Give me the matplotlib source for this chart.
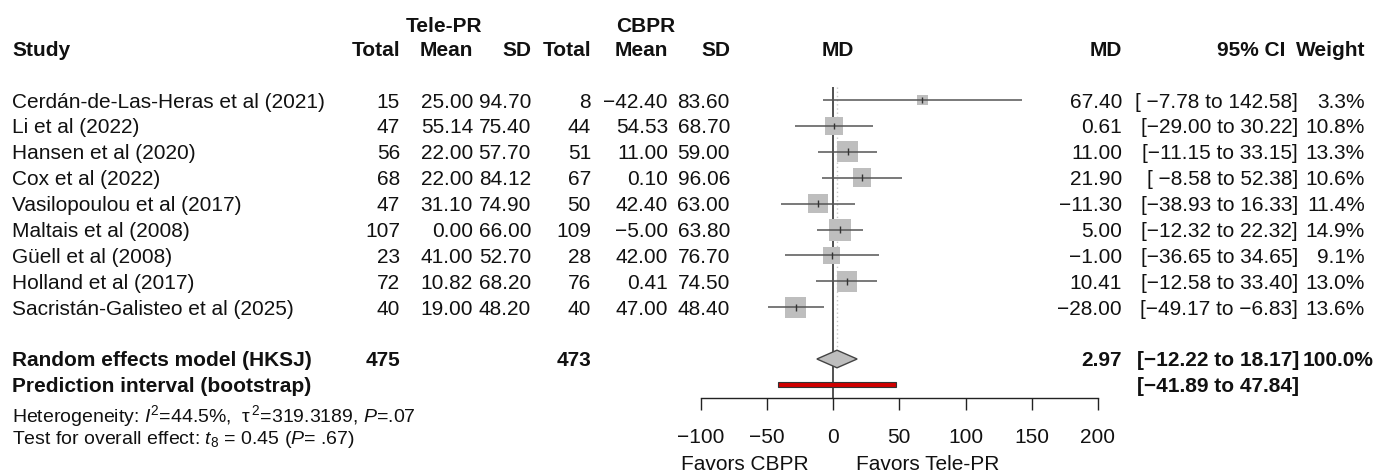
import matplotlib
matplotlib.use("Agg")
import matplotlib.pyplot as plt
import matplotlib.transforms as mtransforms
from matplotlib.patches import Rectangle, Polygon
import numpy as np

plt.rcParams['font.family'] = ['Liberation Sans', 'DejaVu Sans']
plt.rcParams['mathtext.fontset'] = 'custom'
plt.rcParams['mathtext.rm'] = 'Liberation Sans'
plt.rcParams['mathtext.it'] = 'Liberation Sans:italic'
plt.rcParams['mathtext.bf'] = 'Liberation Sans:bold'

# ---------------- data ----------------
studies = ["Cerdán-de-Las-Heras et al (2021)", "Li et al (2022)", "Hansen et al (2020)",
           "Cox et al (2022)", "Vasilopoulou et al (2017)", "Maltais et al (2008)",
           "Güell et al (2008)", "Holland et al (2017)", "Sacristán-Galisteo et al (2025)"]
tele_n = [15, 47, 56, 68, 47, 107, 23, 72, 40]
tele_mean = [25.00, 55.14, 22.00, 22.00, 31.10, 0.00, 41.00, 10.82, 19.00]
tele_sd = [94.70, 75.40, 57.70, 84.12, 74.90, 66.00, 52.70, 68.20, 48.20]
cbpr_n = [8, 44, 51, 67, 50, 109, 28, 76, 40]
cbpr_mean = [-42.40, 54.53, 11.00, 0.10, 42.40, -5.00, 42.00, 0.41, 47.00]
cbpr_sd = [83.60, 68.70, 59.00, 96.06, 63.00, 63.80, 76.70, 74.50, 48.40]
md = [67.40, 0.61, 11.00, 21.90, -11.30, 5.00, -1.00, 10.41, -28.00]
ci_lo = [-7.78, -29.00, -11.15, -8.58, -38.93, -12.32, -36.65, -12.58, -49.17]
ci_hi = [142.58, 30.22, 33.15, 52.38, 16.33, 22.32, 34.65, 33.40, -6.83]
weight = [3.3, 10.8, 13.3, 10.6, 11.4, 14.9, 9.1, 13.0, 13.6]

re_label = "Random effects model (HKSJ)"
pi_label = "Prediction interval (bootstrap)"
re_tele_n, re_cbpr_n = 475, 473
re_md, re_lo, re_hi, re_weight = 2.97, -12.22, 18.17, 100.0
pi_lo, pi_hi = -41.89, 47.84
x_ticks = [-100, -50, 0, 50, 100, 150, 200]
label_left, label_right = "Favors CBPR", "Favors Tele-PR"
het_text = r"Heterogeneity: $I^2$=44.5%,  $\mathregular{\tau^{\,2}}$=319.3189, $P$=.07"
test_text = r"Test for overall effect: $t_8$ = 0.45 ($P$= .67)"

# ---------------- layout ----------------
W, H = 1375, 472
FS = 15
FS_SMALL = 14
TXT = "#111111"

fig = plt.figure(figsize=(W / 100, H / 100), dpi=100)
fig.patch.set_facecolor("white")

ROW0_PX, ROW_PX = 100.0, 25.9
def r_of(ypx):
    return (ypx - ROW0_PX) / ROW_PX

AX_L, AX_R = 700.6, 1098.0
ax = fig.add_axes([AX_L / W, 0, (AX_R - AX_L) / W, 1])
ax.set_xlim(x_ticks[0], x_ticks[-1])
ax.set_ylim(r_of(H), r_of(0))
ax.patch.set_visible(False)

tt = mtransforms.blended_transform_factory(fig.transFigure, ax.transData)

def put(xpx, r, s, ha="right", bold=False, size=FS):
    ax.text(xpx / W, r, s, transform=tt, ha=ha, va="center_baseline",
            fontsize=size, fontweight="bold" if bold else "normal", color=TXT)

def f2(v):
    return f"{v:.2f}".replace("-", "\u2212")

def ci_str(lo, hi, pad=True):
    los = f"{lo:6.2f}" if pad else f"{lo:.2f}"
    return ("[" + los + " to " + f"{hi:.2f}" + "]").replace("-", "\u2212")

# column right edges (px)
C_TN, C_TM, C_TS, C_CN, C_CM, C_CS = 400, 473, 531, 591, 668, 730
C_MD, C_CI, C_W = 1122, 1298, 1365
C_STUDY = 12

# headers
r_grp, r_hdr = r_of(25), r_of(48.3)
put(444, r_grp, "Tele-PR", ha="center", bold=True)
put(646, r_grp, "CBPR", ha="center", bold=True)
put(C_STUDY, r_hdr, "Study", ha="left", bold=True)
for x, s in [(C_TN, "Total"), (C_TM, "Mean"), (C_TS, "SD"),
             (C_CN, "Total"), (C_CM, "Mean"), (C_CS, "SD"),
             (C_MD, "MD"), (1285, "95% CI"), (C_W, "Weight")]:
    put(x, r_hdr, s, bold=True)
put(838, r_hdr, "MD", ha="center", bold=True)

# study rows
rows = np.arange(len(studies))
for i in rows:
    put(C_STUDY, i, studies[i], ha="left")
    put(C_TN, i, str(tele_n[i]))
    put(C_TM, i, f2(tele_mean[i]))
    put(C_TS, i, f2(tele_sd[i]))
    put(C_CN, i, str(cbpr_n[i]))
    put(C_CM, i, f2(cbpr_mean[i]))
    put(C_CS, i, f2(cbpr_sd[i]))
    put(C_MD, i, f2(md[i]))
    put(C_CI, i, ci_str(ci_lo[i], ci_hi[i]))
    put(C_W, i, f"{weight[i]:.1f}%")

r_re = len(studies) + 1
r_pi = r_re + 1
put(C_STUDY, r_re, re_label, ha="left", bold=True)
put(C_TN, r_re, str(re_tele_n), bold=True)
put(C_CN, r_re, str(re_cbpr_n), bold=True)
put(C_MD, r_re, f2(re_md), bold=True)
put(C_CI + 1, r_re, ci_str(re_lo, re_hi, pad=False), bold=True)
put(1373, r_re, f"{re_weight:.1f}%", bold=True)
put(C_STUDY, r_pi, pi_label, ha="left", bold=True)
put(C_CI + 1, r_pi, ci_str(pi_lo, pi_hi, pad=False), bold=True)
put(C_STUDY, r_of(412.7), het_text, ha="left", size=FS_SMALL)
put(C_STUDY, r_of(436.7), test_text, ha="left", size=FS_SMALL)

# ---------------- forest ----------------
axis_r = r_of(397.7)
w = np.array(weight)
side_px = 22.0 * np.sqrt(w / w.max())
side_pt = side_px * 72 / 100
ax.scatter(md, rows, s=side_pt ** 2, marker="s", color="#BEBEBE",
           linewidths=0, zorder=2, clip_on=False)
ax.hlines(rows, ci_lo, ci_hi, color="#555555", lw=1.1, zorder=3, clip_on=False)
ax.vlines(md, rows - 0.13, rows + 0.13, color="#333333", lw=1.0, zorder=4)

ax.vlines(0, -0.5, axis_r, color="#222222", lw=1.1, zorder=1)
ax.vlines(re_md, -0.5, r_re - 0.34, color="#C8C8C8", lw=1.0,
          linestyles=(0, (1, 2)), zorder=0)

dh = 0.34
ax.add_patch(Polygon([(re_lo, r_re), (re_md, r_re - dh), (re_hi, r_re), (re_md, r_re + dh)],
                     closed=True, fc="#BEBEBE", ec="#444444", lw=1.0, zorder=3))
ph = 0.1
ax.add_patch(Rectangle((pi_lo, r_pi - ph), pi_hi - pi_lo, 2 * ph,
                       fc="#D00000", ec="#333333", lw=0.8, zorder=3))

for s in ["top", "left", "right"]:
    ax.spines[s].set_visible(False)
ax.spines["bottom"].set_position(("data", axis_r))
ax.spines["bottom"].set_bounds(x_ticks[0], x_ticks[-1])
ax.spines["bottom"].set_color("#222222")
ax.spines["bottom"].set_linewidth(1.0)
ax.set_xticks(x_ticks)
ax.set_xticklabels([str(t).replace("-", "\u2212") for t in x_ticks])
ax.tick_params(axis="x", direction="out", length=8.9, width=1.0, pad=13,
               labelsize=FS, colors="#222222", labelcolor=TXT)
ax.set_yticks([])

put(745, r_of(463), label_left, ha="center")
put(928, r_of(463), label_right, ha="center")

fig.savefig("out.png", dpi=100, facecolor="white")
